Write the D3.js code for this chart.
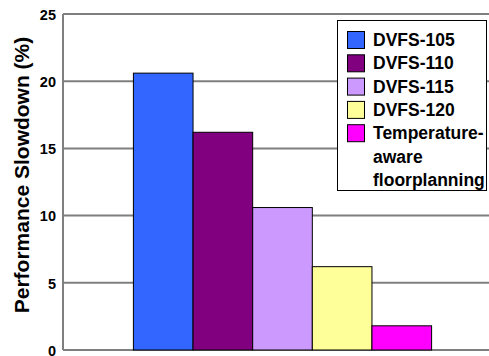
<!DOCTYPE html>
<html><head><meta charset="utf-8">
<script src="https://cdn.jsdelivr.net/npm/d3@7"></script>
<style>body{margin:0;background:#fff}svg{display:block}</style>
</head><body><svg id="c" width="489" height="356"></svg>
<script>
const categories = ["All"];
const seriesNames = ["DVFS-105","DVFS-110","DVFS-115","DVFS-120","Temperature-aware floorplanning"];
const seriesValues = [20.6, 16.2, 10.6, 6.2, 1.8];
const seriesColors = ["#3366FF","#800080","#CC99FF","#FFFF99","#FF00FF"];
const yTicks = [0,5,10,15,20,25];
const legendLines = [["DVFS-105"],["DVFS-110"],["DVFS-115"],["DVFS-120"],["Temperature-","aware","floorplanning"]];

const FONT = "'Liberation Sans', Arial, Helvetica, sans-serif";
const svg = d3.select("#c");
const L = 63, R = 502, T = 14, B = 350;
const y = d3.scaleLinear().domain([0,25]).range([B,T]);
const x0 = d3.scaleBand().domain(categories).range([L,R]).padding(0.191);
const x1 = d3.scaleBand().domain(seriesNames).range([0,x0.bandwidth()]);

// gridlines
svg.append("g").selectAll("line").data(yTicks.filter(d=>d>0)).join("line")
  .attr("x1",L).attr("x2",489).attr("y1",d=>y(d)).attr("y2",d=>y(d))
  .attr("stroke","#7f7f7f").attr("stroke-width",2);
// axis lines
svg.append("line").attr("x1",L).attr("x2",L).attr("y1",T).attr("y2",B).attr("stroke","#7f7f7f").attr("stroke-width",2);
svg.append("line").attr("x1",L).attr("x2",489).attr("y1",B).attr("y2",B).attr("stroke","#7f7f7f").attr("stroke-width",2);

const yAxis = d3.axisLeft(y).tickValues(yTicks).tickSize(0).tickPadding(0);
const ga = svg.append("g").attr("transform",`translate(${L-7},0)`).call(yAxis);
ga.select(".domain").remove();
ga.attr("font-family",null).attr("font-size",null);
ga.selectAll("text").attr("font-size",14.5).attr("font-family",FONT).attr("font-weight",700).attr("fill","#000").attr("dy","0.36em");

// bars
svg.append("g").selectAll("rect").data(seriesNames).join("rect")
  .attr("x",(d,i)=>x0(categories[0])+x1(d))
  .attr("width",x1.bandwidth())
  .attr("y",(d,i)=>y(seriesValues[i]))
  .attr("height",(d,i)=>B-y(seriesValues[i]))
  .attr("fill",(d,i)=>seriesColors[i]).attr("stroke","#000").attr("stroke-width",1);

// y label
svg.append("text").attr("transform","translate(29,175) rotate(-90)")
  .attr("text-anchor","middle").attr("font-size",21).attr("font-family",FONT).attr("font-weight",700)
  .text("Performance Slowdown (%)");

// legend
const lg = svg.append("g");
lg.append("rect").attr("x",337.5).attr("y",20.5).attr("width",149).attr("height",170).attr("fill","#fff").attr("stroke","#000").attr("stroke-width",1);
let row = 0;
legendLines.forEach((lines,i)=>{
  const cy = 40 + row*23.3;
  lg.append("rect").attr("x",347.5).attr("y",cy-8.5).attr("width",17).attr("height",17).attr("fill",seriesColors[i]).attr("stroke","#000").attr("stroke-width",1);
  lines.forEach((t,j)=>{
    lg.append("text").attr("x",373).attr("y",cy+6+j*23.3).attr("font-size",17.5)
      .attr("font-family",FONT).attr("font-weight",700).text(t);
  });
  row += lines.length;
});
</script></body></html>
